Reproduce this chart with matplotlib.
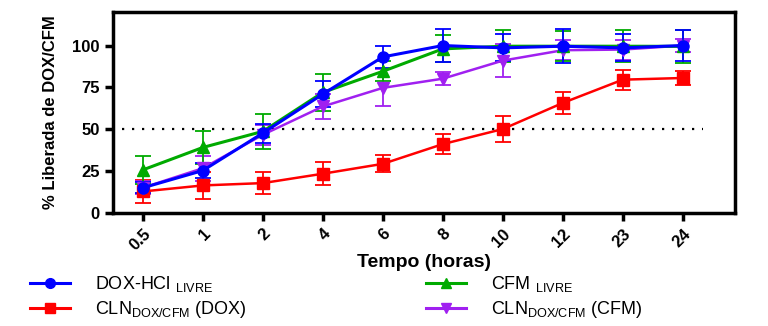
import matplotlib
matplotlib.use("Agg")
import matplotlib.pyplot as plt
from matplotlib.lines import Line2D

plt.rcParams["font.family"] = ["Liberation Sans", "DejaVu Sans"]
plt.rcParams["mathtext.fontset"] = "custom"
plt.rcParams["mathtext.rm"] = "Liberation Sans"

# data
tempo = ["0.5", "1", "2", "4", "6", "8", "10", "12", "23", "24"]

dox_livre = [15, 25.3, 47.7, 71, 93.2, 100, 98.6, 99.6, 98.6, 100]
dox_livre_err = [3.3, 4.3, 5.7, 8, 6.6, 10, 8, 10, 8, 9]

cfm_livre = [25.7, 39.1, 48.7, 72, 84.6, 98, 99.6, 99.6, 99.6, 99.5]
cfm_livre_err = [8.5, 9.8, 10.3, 11, 6, 8, 9.6, 9, 9.6, 10]

cln_dox = [12.8, 16.4, 17.8, 23.4, 29.3, 41.1, 50.1, 65.7, 79.6, 80.6]
cln_dox_err = [7, 8.3, 6.6, 7, 5, 6, 7.5, 6.8, 6, 4.4]

cln_cfm = [15, 26.7, 46.7, 63.6, 74.7, 80.2, 91, 97.2, 97.6, 100]
cln_cfm_err = [4, 7.4, 6, 7.6, 11, 4, 10, 6, 6, 4]

labels = [
    r"DOX-HCl $_{\mathrm{LIVRE}}$",
    r"CFM $_{\mathrm{LIVRE}}$",
    r"CLN$_{\mathrm{DOX/CFM}}$ (DOX)",
    r"CLN$_{\mathrm{DOX/CFM}}$ (CFM)",
]

x = list(range(len(tempo)))

fig = plt.figure(figsize=(7.68, 3.26), dpi=100)
ax = fig.add_axes([0.147, 0.347, 0.81, 0.616])

series = [
    (cln_dox, cln_dox_err, "#ff0000", "s", 9, 1.8),
    (cln_cfm, cln_cfm_err, "#a020f0", "v", 9, 1.8),
    (cfm_livre, cfm_livre_err, "#00aa00", "^", 9, 2.2),
    (dox_livre, dox_livre_err, "#0000ff", "o", 8, 2.2),
]
for vals, err, col, mk, ms, lw in series:
    ax.errorbar(x, vals, yerr=err, color=col, ecolor=col, elinewidth=1.3,
                capsize=6, capthick=1.3, marker=mk, markersize=ms, lw=lw,
                zorder=3)

ax.hlines(50, -0.35, 9.33, colors="black", linestyles=(0, (1, 3.5)), lw=1.6, zorder=1)

ax.set_xlim(-0.5, 9.87)
ax.set_ylim(0, 120)
ax.set_yticks([0, 25, 50, 75, 100])
ax.set_xticks(x)
ax.set_xticklabels(tempo, rotation=45, ha="right", rotation_mode="anchor",
                   fontweight="bold", fontsize=12)
for t in ax.get_yticklabels():
    t.set_fontweight("bold")
    t.set_fontsize(12)

for s in ax.spines.values():
    s.set_linewidth(2.5)
ax.tick_params(axis="both", width=2.5, length=6, direction="out")

ax.set_xlabel("Tempo (horas)", fontsize=14, fontweight="bold", labelpad=1)
ax.set_ylabel("% Liberada de DOX/CFM", fontsize=12, fontweight="bold", labelpad=10)

handles = [
    Line2D([], [], color="#0000ff", marker="o", lw=2.2, ms=7),
    Line2D([], [], color="#00aa00", marker="^", lw=2.2, ms=7),
    Line2D([], [], color="#ff0000", marker="s", lw=2.2, ms=7),
    Line2D([], [], color="#a020f0", marker="v", lw=2.2, ms=7),
]
kw = dict(frameon=False, fontsize=13, handlelength=2.2, handletextpad=1.4,
          labelspacing=0.3, borderaxespad=0)
fig.legend([handles[0], handles[2]], [labels[0], labels[2]], loc="lower left",
           bbox_to_anchor=(0.03, -0.005), **kw)
fig.legend([handles[1], handles[3]], [labels[1], labels[3]], loc="lower left",
           bbox_to_anchor=(0.545, -0.005), **kw)

fig.savefig("out.png", dpi=100)
